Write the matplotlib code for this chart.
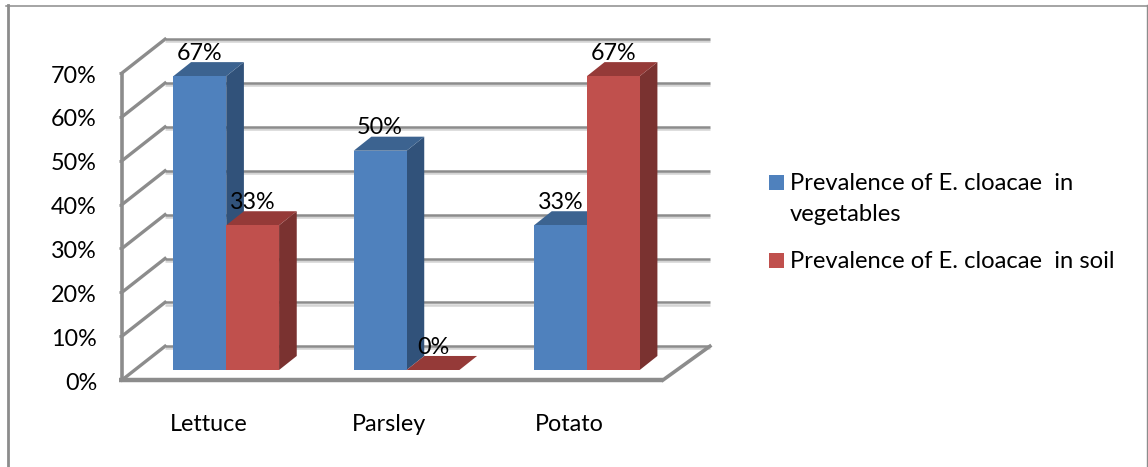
import matplotlib
matplotlib.use('Agg')
import matplotlib.pyplot as plt
import matplotlib.patheffects as pe
from matplotlib.lines import Line2D
from matplotlib.patches import Polygon, Rectangle
from matplotlib.transforms import ScaledTranslation

CATEGORIES = ['Lettuce', 'Parsley', 'Potato']
VEGETABLES = [67, 50, 33]
SOIL = [33, 0, 67]
Y_TICKS = [0, 10, 20, 30, 40, 50, 60, 70]
SERIES_NAMES = ['Prevalence of E. cloacae  in\nvegetables',
                'Prevalence of E. cloacae  in soil']

W, H = 1148, 467
GRID = '#8c8c8c'
SHADE = '#d4d4d4'
BLUE = ('#4f81bd', '#3c6390', '#31527a')
RED = ('#c0504d', '#953a38', '#7a3230')

# depth of the chart box and of the bars, in data units
WALL_DX, WALL_DY = 0.2385, 7.7
WALL_RIGHT = 3.26
BAR_Y0 = 2.28
BAR_DX, BAR_DY = 0.098, 3.2
BAR_W = 0.293

plt.rcParams['font.family'] = ['Lato', 'DejaVu Sans']
plt.rcParams['font.size'] = 16.8

fig = plt.figure(figsize=(W / 100, H / 100), dpi=100)
ax = fig.add_axes([122 / W, (H - 380) / H, 541 / W, 307 / H])
ax.set_xlim(0, 3)
ax.set_ylim(0, 70)
for s in ax.spines.values():
    s.set_visible(False)
ax.patch.set_visible(False)


def box_line(xs, ys, lw, shadow=False, z=1):
    line = ax.plot(xs, ys, color=GRID, lw=lw, clip_on=False, zorder=z,
                   solid_capstyle='butt')[0]
    if shadow:
        line.set_path_effects([
            pe.SimpleLineShadow(offset=(0, -1.6), shadow_color=SHADE, alpha=1),
            pe.Normal()])


# back wall gridlines and the diagonals on the side wall and floor
for t in Y_TICKS:
    ax.plot([0, WALL_DX], [t, t + WALL_DY], color=GRID, lw=2.4,
            clip_on=False, zorder=1)
    box_line([WALL_DX, WALL_RIGHT], [t + WALL_DY, t + WALL_DY], 1.8,
             shadow=True)
ax.plot([3, WALL_RIGHT], [0, WALL_DY], color=GRID, lw=2.6, clip_on=False,
        zorder=1)
box_line([0, 0], [-0.4, 70], 2.6, z=2)
box_line([-0.015, 3], [0, 0], 3.2, z=2)


def draw_bar(x, value, colors):
    left, right = x, x + BAR_W
    base, top = BAR_Y0, value + BAR_Y0
    ax.add_patch(Polygon([(right, base), (right + BAR_DX, base + BAR_DY),
                          (right + BAR_DX, top + BAR_DY), (right, top)],
                         fc=colors[2], ec='none', clip_on=False, zorder=3))
    ax.add_patch(Polygon([(left, top), (right, top),
                          (right + BAR_DX, top + BAR_DY),
                          (left + BAR_DX, top + BAR_DY)],
                         fc=colors[1], ec='none', clip_on=False, zorder=3))
    ax.bar(left, value, BAR_W, bottom=base, align='edge', color=colors[0],
           clip_on=False, zorder=3)
    ax.annotate(f'{value}%', (x + BAR_W / 2, top), xytext=(0, 16.4),
                textcoords='offset points', ha='center', va='center',
                color='black', annotation_clip=False, zorder=5)


for i in range(len(CATEGORIES)):
    x_mid = i + 0.5 + 0.078
    draw_bar(x_mid - BAR_W, VEGETABLES[i], BLUE)
    draw_bar(x_mid, SOIL[i], RED)

ax.set_yticks(Y_TICKS, [f'{t}%' for t in Y_TICKS])
ax.set_xticks([i + 0.48 for i in range(len(CATEGORIES))], CATEGORIES)
ax.tick_params(axis='y', length=2, width=2, color=GRID, pad=16)
ax.tick_params(axis='x', length=0, pad=24.6)
for lab in ax.get_yticklabels():
    lab.set_transform(lab.get_transform()
                      + ScaledTranslation(0, -1 / 100, fig.dpi_scale_trans))

# legend keys sit level with the first line of their entry
for name, colors, y_top, y_text in zip(SERIES_NAMES, (BLUE, RED),
                                       (175, 253), (172.5, 251.5)):
    fig.add_artist(Rectangle((769 / W, 1 - (y_top + 15) / H), 15 / W, 15 / H,
                             fc=colors[0], ec='none',
                             transform=fig.transFigure))
    fig.text(790 / W, 1 - y_text / H, name, ha='left', va='top',
             linespacing=1.62, fontsize=17.1)

# frame around the whole chart
fig.add_artist(Line2D([7.5 / W, 7.5 / W], [0, 1 - 5 / H], color=GRID, lw=2.0))
fig.add_artist(Line2D([6 / W, 1], [1 - 5.5 / H, 1 - 5.5 / H], color=GRID, lw=1.1))
fig.add_artist(Line2D([1147.2 / W, 1147.2 / W], [0, 1 - 5 / H], color=GRID, lw=1.0))

fig.savefig('out.png', dpi=100)
